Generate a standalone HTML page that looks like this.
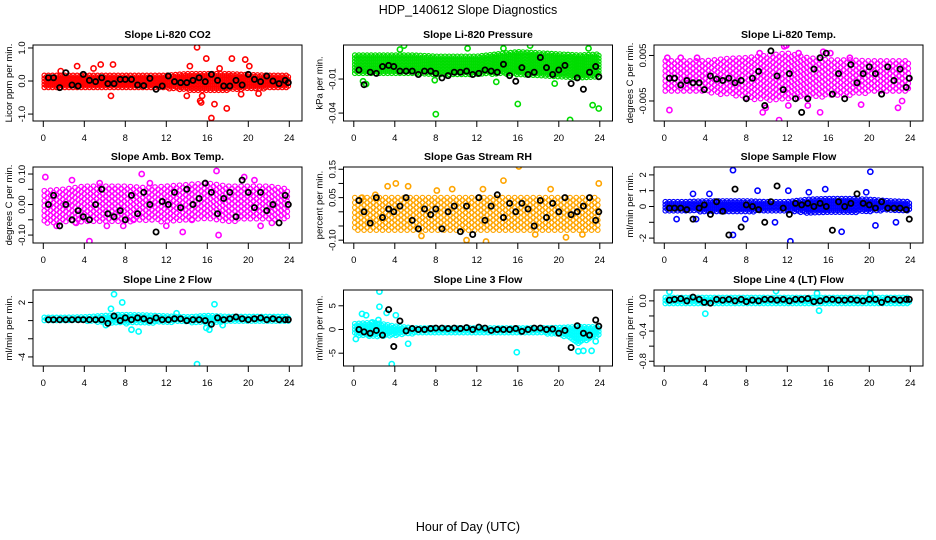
<!DOCTYPE html>
<html><head><meta charset="utf-8"><style>
html,body{margin:0;padding:0;background:#fff;}
svg{display:block;font-family:"Liberation Sans",sans-serif;}
</style></head><body>
<svg id="chart" width="936" height="540" viewBox="0 0 936 540" xmlns="http://www.w3.org/2000/svg">
<text x="468" y="14" text-anchor="middle" font-size="12.5">HDP_140612  Slope Diagnostics</text>
<text x="468" y="531" text-anchor="middle" font-size="12.5">Hour of Day (UTC)</text>
</svg>
<script>
const xTicks = [0,4,8,12,16,20,24];
const bandHours = [0,2,4,6,8,10,12,14,16,18,20,22,24];
const blackX = [0.5,1.0,1.6,2.2,2.8,3.4,3.9,4.5,5.1,5.7,6.3,6.9,7.5,8.0,8.6,9.2,9.8,10.4,11.0,11.6,12.2,12.8,13.4,14.0,14.6,15.2,15.8,16.4,17.0,17.6,18.2,18.8,19.4,20.0,20.6,21.2,21.8,22.4,23.0,23.6,23.9];
const bCO2 = [0.1,0.1,-0.2,0.25,-0.12,-0.15,0.2,0.02,-0.02,0.1,-0.08,-0.08,0.05,0.05,0.05,-0.12,-0.14,0.08,-0.25,-0.15,0.15,-0.02,-0.05,-0.05,0.02,0.1,-0.02,0.2,0.02,-0.15,-0.15,0.02,-0.12,0.2,0.05,-0.02,0.15,0.0,-0.08,0.02,-0.05];
const bPr = [-0.002,-0.015,-0.004,-0.005,0.001,0.002,0.001,-0.003,-0.003,-0.003,-0.006,-0.003,-0.003,-0.005,-0.009,-0.007,-0.004,-0.004,-0.003,-0.006,-0.005,-0.002,-0.003,-0.004,0.003,-0.007,-0.012,0.0,-0.006,-0.004,0.009,0.0,-0.006,-0.002,0.002,-0.014,-0.009,-0.019,-0.004,0.001,-0.008];
const bTm = [0.0,0.0,-0.0015,-0.0005,-0.001,-0.001,-0.0025,0.0005,-0.0002,-0.0005,0.0,-0.001,-0.0005,-0.0045,0.0,0.0015,-0.006,0.006,0.0005,-0.0025,0.001,-0.0045,-0.0075,-0.0045,0.002,0.0045,0.0055,-0.0035,0.001,-0.0045,0.003,-0.001,0.001,0.0025,0.001,-0.0035,0.0025,-0.0005,0.002,-0.002,0.0];
const bAm = [0.0,0.03,-0.07,0.0,-0.05,-0.02,-0.04,-0.05,0.0,0.05,-0.03,-0.04,-0.02,-0.05,0.03,-0.03,0.04,0.0,-0.09,0.01,0.0,0.04,-0.01,0.05,0.0,0.02,0.07,0.04,-0.03,0.02,0.04,-0.04,0.08,0.04,-0.01,0.04,-0.02,0.0,-0.06,0.03,0.0];
const bRH = [0.04,0.0,-0.04,0.05,-0.02,0.01,0.0,0.02,0.05,-0.03,-0.06,0.01,-0.01,0.01,-0.06,0.0,0.02,-0.07,0.02,-0.08,0.05,-0.03,0.02,0.06,-0.02,0.03,0.0,0.03,0.01,-0.05,0.04,-0.02,0.03,0.0,0.05,-0.01,0.0,0.02,0.05,-0.03,0.0];
const bSF = [-0.1,-0.1,-0.1,-0.2,-0.8,-0.1,0.1,-0.5,0.3,-0.3,-1.8,1.1,-1.3,0.1,0.0,-0.2,-1.0,0.3,1.3,-0.1,-0.5,0.2,0.1,0.2,0.0,0.2,0.0,-1.5,0.3,0.0,0.2,0.8,0.2,0.1,-0.1,0.3,-0.1,-0.1,-0.1,-0.2,-0.8];
const bL2 = [0.1,0.1,0.1,0.1,0.1,0.1,0.1,0.1,0.1,0.1,-0.3,0.5,0.0,0.3,0.1,0.3,0.2,0.0,0.3,0.1,0.1,0.2,0.2,0.0,0.1,0.1,0.0,-0.4,0.3,0.1,0.2,0.4,0.2,0.1,0.2,0.3,0.1,0.2,0.1,0.1,0.1];
const bL3 = [0.0,-0.5,-0.8,-0.2,-1.2,4.2,-3.6,1.8,-0.3,0.2,0.0,0.0,0.2,0.3,0.3,0.2,0.3,0.2,0.4,0.0,0.5,0.3,-0.2,0.0,0.0,0.0,0.2,-0.4,0.0,0.3,0.3,0.0,0.1,-0.8,-0.2,-3.8,0.8,-0.8,-1.2,2.0,0.7];
const bL4 = [0.01,0.02,0.03,0.0,0.05,0.02,-0.02,-0.03,0.02,0.01,0.02,0.0,0.02,-0.01,0.01,0.0,0.02,0.02,0.01,0.02,0.0,0.02,0.02,0.03,-0.01,0.0,0.02,0.02,0.01,0.01,0.02,0.01,0.0,0.02,0.02,-0.02,0.02,0.02,0.01,0.02,0.02];

const titles = ["Slope Li-820 CO2","Slope Li-820 Pressure","Slope Li-820 Temp.","Slope Amb. Box Temp.","Slope Gas Stream RH","Slope Sample Flow","Slope Line 2 Flow","Slope Line 3 Flow","Slope Line 4 (LT) Flow"];
const yTitles = ["Licor ppm per min.","kPa per min.","degrees C per min.","degrees C per min.","percent per min.","ml/min per min.","ml/min per min.","ml/min per min.","ml/min per min."];
const colors = ["#ff0000","#00dd00","#ff00ff","#ff00ff","#ffa500","#0000ff","#00ffff","#00ffff","#00ffff"];
const yMin = [-1.21,-0.047,-0.0094,-0.126,-0.11,-2.31,-5.0,-7.7,-0.863];
const yMax = [1.09,0.02,0.0073,0.123,0.158,2.5,3.37,8.33,0.144];
const yTickVals = [[1,0,-1],[-0.01,-0.04],[0.005,-0.005],[0.1,0.05,0,-0.05,-0.1],[0.15,0.1,0.05,0,-0.05,-0.1],[2,1,0,-1,-2],[2,0,-2,-4],[5,0,-5],[0,-0.2,-0.4,-0.6,-0.8]];
const yTickLabels = [["1.0","0.0","-1.0"],["-0.01","-0.04"],["0.005","-0.005"],["0.10","","0.00","","-0.10"],["0.15","","0.05","","","-0.10"],["2","1","0","","-2"],["2","","","-4"],["5","0","-5"],["0.0","","-0.4","","-0.8"]];
const dense = [true,true,false,false,false,true,true,true,true];

const bandCenter = [
 [-0.03,-0.03,-0.03,-0.03,-0.03,-0.03,-0.03,-0.03,-0.03,-0.03,-0.03,-0.03,-0.03],
 [0.003,0.003,0.003,0.003,0.002,0.002,0.002,0.003,0.004,0.003,0.002,0.001,0.002],
 [0.0003,0.0003,0.0003,0.0003,0.0,0.0,0.0005,0.0,0.0,0.0,0.0003,0.0003,0.0003],
 [-0.01,-0.005,0.0,0.0,0.0,0.0,0.0,0.005,0.01,0.0,0.005,0.005,0.0],
 [-0.01,-0.01,-0.01,-0.01,-0.01,-0.01,-0.01,-0.01,-0.01,-0.01,-0.01,-0.01,-0.01],
 [0,0,0,0,0,0,0,0,0.05,0.05,0.05,0.05,0],
 [0.15,0.15,0.15,0.15,0.15,0.15,0.15,0.1,0.1,0.15,0.15,0.15,0.15],
 [0,0,-0.3,-0.3,-0.3,-0.3,-0.3,-0.3,-0.3,-0.3,-0.3,-1.2,-0.3],
 [0,0,0,0,0,0,0,0,0,0,0,0,0]
];
const bandHalf = [
 [0.2,0.2,0.2,0.2,0.2,0.2,0.2,0.25,0.25,0.25,0.22,0.2,0.2],
 [0.008,0.008,0.008,0.008,0.008,0.008,0.008,0.009,0.01,0.01,0.01,0.01,0.01],
 [0.0035,0.0035,0.0035,0.004,0.0045,0.005,0.005,0.0045,0.004,0.004,0.0035,0.0035,0.0035],
 [0.055,0.055,0.06,0.06,0.06,0.055,0.06,0.06,0.06,0.06,0.055,0.055,0.05],
 [0.06,0.06,0.06,0.06,0.06,0.06,0.06,0.06,0.06,0.06,0.06,0.06,0.06],
 [0.3,0.3,0.35,0.35,0.35,0.3,0.3,0.45,0.45,0.45,0.4,0.3,0.3],
 [0.2,0.2,0.25,0.4,0.5,0.45,0.35,0.3,0.45,0.3,0.3,0.3,0.3],
 [1.2,1.5,1.0,0.6,0.6,0.6,0.6,0.6,0.6,0.6,0.7,1.8,0.8],
 [0.045,0.045,0.045,0.045,0.045,0.045,0.045,0.045,0.045,0.045,0.045,0.045,0.045]
];
const outX = [
 [15,15.9,18.4,19.7,16.7,16.4,17.9,15.3,15.4,6.8,5.6,3.3,14.3,20.1,1.7,21,6.6,14,15.5,4.9,19.3,17.2],
 [8,16,21.1,23.3,23.9,4.9,17.2,1.2,0.9,13.9,14.6,19.6,4.5,11.1,22.9,7.9],
 [0.5,0.3,9.6,9.9,11.2,11.7,11.9,12.1,13.1,15.2,15.5,19.2,22.8,23.2,1.6,3.2,9.3,14.0,16.2,18.1],
 [0.2,2.8,4.5,3.2,9.6,12,13.6,16.9,19.6,21.2,17.1,22.3,6.2,7.8,8.8,14.5,1.3,10.4,20.6,5.5],
 [11,12.9,16.1,14.6,3.3,4.1,9.6,2.1,5.3,17.7,19.2,20.7,23.9,0.8,6.6,8.1,22.3,12.6],
 [6.7,20.1,12.3,17.3,2.8,3.1,7.9,9.1,12.1,15.7,19.7,4.4,6.7,20.6,10.8,1.2,14.1,22.6],
 [6.9,6.6,7.7,8.6,9.3,15,16.7,15.9,16.2,7.3,6.1,13,17.5],
 [0.2,0.8,1.2,2.4,2.5,2.5,3.2,4.1,5.3,15.9,21.9,22.4,23.2,23.6,3.7,1.8,1.5],
 [0.5,4.0,10.9,15.1,20.1,14.9]
];
const outY = [
 [1.02,0.68,0.68,0.65,-0.7,-1.12,-0.83,-0.6,-0.65,0.5,0.5,0.45,0.45,0.45,0.3,-0.38,-0.45,-0.45,-0.45,0.38,-0.4,0.38],
 [-0.041,-0.032,-0.046,-0.033,-0.036,0.0195,0.0195,-0.0145,-0.012,-0.0125,0.017,-0.014,0.016,0.017,0.017,-0.011],
 [-0.007,0.0045,-0.0075,-0.0065,-0.0092,0.007,0.0072,-0.006,0.0055,-0.0075,0.0058,-0.0058,-0.0065,-0.005,0.0045,0.0045,0.0055,-0.006,0.0055,0.0045],
 [0.09,0.08,-0.12,-0.06,0.1,-0.07,-0.09,0.11,0.09,-0.07,-0.1,-0.06,-0.07,-0.07,-0.05,-0.05,-0.07,0.07,0.08,0.07],
 [-0.1,-0.105,0.16,0.11,0.09,0.1,0.08,0.06,0.09,-0.08,0.08,-0.09,0.1,0.05,-0.085,0.075,-0.08,0.08],
 [2.3,2.2,-2.2,-1.6,0.8,-0.8,-0.8,1.0,1.0,1.1,0.9,0.8,-1.8,-1.2,-1.0,-0.8,0.9,-1.0],
 [2.9,1.3,2.0,-1.0,-1.2,-4.8,1.8,-0.8,-1.0,0.6,-0.5,0.8,-0.5],
 [-2.0,3.3,3.0,2.0,4.8,8.0,3.5,3.0,-3.0,-4.8,-4.6,-4.5,-4.5,-2.5,-7.3,1.5,-1.0],
 [0.12,-0.17,0.13,-0.13,0.1,0.1]
];

const NS = "http://www.w3.org/2000/svg";
const svg = document.getElementById('chart');
const colDX = [0,310.5,621];
const rowTop = [45,167,290];
const boxL = 33, boxR = 302, boxH = 76, x0 = 43.3, xScale = 10.25;

function mk(tag, attrs, parent){
  const el = document.createElementNS(NS, tag);
  for (const k in attrs) el.setAttribute(k, attrs[k]);
  (parent||svg).appendChild(el);
  return el;
}

const blackSets = [bCO2, bPr, bTm, bAm, bRH, bSF, bL2, bL3, bL4];

for (let p = 0; p < 9; p++){
  const dx = colDX[p%3], top = rowTop[Math.floor(p/3)], bot = top + boxH;
  const g = mk('g', {});
  
  
  const sx = h => dx + x0 + h*xScale;
  const sy = v => bot - (v - yMin[p])/(yMax[p]-yMin[p])*boxH;
  const interp = (arr, h) => {
    const i = Math.min(11, Math.floor(h/2)); const t = (h - bandHours[i])/2;
    return arr[p][i]*(1-t) + arr[p][i+1]*t;
  };
  const clip = mk('clipPath', {id:'clip'+p}, g);
  mk('rect', {x:dx+boxL, y:top, width:boxR-boxL, height:boxH}, clip);
  const pts = mk('g', {'clip-path':'url(#clip'+p+')', fill:'none', 'stroke-width':1.2}, g);
  
  
  const stepH = dense[p] ? 0.2 : 0.3;
  let k = 0;
  for (let h = 0.1; h <= 24.0; h += stepH, k++){
    const c = interp(bandCenter, h), hw = interp(bandHalf, h);
    const pxHalf = Math.abs(sy(c+hw) - sy(c));
    const rowStep = dense[p] ? 3 : 5;
    const off = (k % 2) ? rowStep/2 : 0;
    for (let yy = -pxHalf + off; yy <= pxHalf; yy += rowStep){
      const cc = mk('circle', {cx:sx(h), cy:sy(c)+yy, r:2.3, stroke:colors[p]}, pts);
      
      
    }
  }
  for (let i = 0; i < outX[p].length; i++){
    const cc = mk('circle', {cx:sx(outX[p][i]), cy:sy(outY[p][i]), r:2.6, stroke:colors[p], 'stroke-width':1.6}, pts);
    
    
  }
  const by = blackSets[p];
  for (let i = 0; i < blackX.length; i++){
    const cc = mk('circle', {cx:sx(blackX[i]), cy:sy(by[i]), r:2.6, stroke:'#000', 'stroke-width':1.8}, pts);
    
    
  }
  const box = mk('rect', {x:dx+boxL, y:top, width:boxR-boxL, height:boxH, fill:'none', stroke:'#000', 'stroke-width':1}, g);
  
  
  const t = mk('text', {x:dx+(boxL+boxR)/2, y:top-7, 'text-anchor':'middle', 'font-size':10.5, 'font-weight':'bold'}, g);
  t.textContent = titles[p];
  
  
  const yt = mk('text', {x:0, y:0, 'text-anchor':'middle', 'font-size':9.5, transform:'translate('+(dx+12)+','+(top+boxH/2)+') rotate(-90)'}, g);
  yt.textContent = yTitles[p];
  
  
  for (let i = 0; i < xTicks.length; i++){
    const X = sx(xTicks[i]);
    const tl = mk('line', {x1:X, x2:X, y1:bot, y2:bot+6, stroke:'#000'}, g);
    
    
    const lb = mk('text', {x:X, y:bot+20, 'text-anchor':'middle', 'font-size':9.5}, g);
    lb.textContent = xTicks[i];
    
    
  }
  for (let i = 0; i < yTickVals[p].length; i++){
    const Y = sy(yTickVals[p][i]);
    const tl = mk('line', {x1:dx+boxL-5, x2:dx+boxL, y1:Y, y2:Y, stroke:'#000'}, g);
    
    
    const lb = mk('text', {x:0, y:0, 'text-anchor':'middle', 'font-size':9.5, transform:'translate('+(dx+25)+','+Y+') rotate(-90)'}, g);
    lb.textContent = yTickLabels[p][i];
    
    
  }
}
</script>
</body></html>
